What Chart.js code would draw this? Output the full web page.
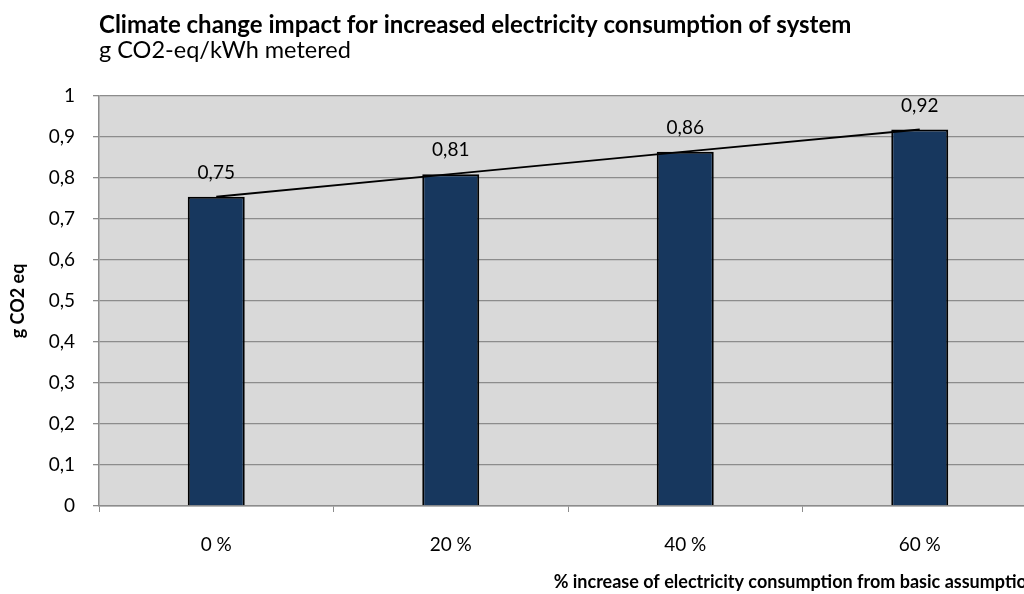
<!DOCTYPE html>
<html>
<head>
<meta charset="utf-8">
<script src="https://cdn.jsdelivr.net/npm/chart.js@4"></script>
<style>
  html, body { margin: 0; padding: 0; background: #fff; overflow: hidden; }
  #wrap { width: 1040px; height: 594px; }
</style>
</head>
<body>
<div id="wrap"><canvas id="impactChart" width="1040" height="594"></canvas></div>
<script>
// Categories and values (g CO2 eq per kWh metered)
const increaseLabels = ['0 %', '20 %', '40 %', '60 %'];
const impactValues = [0.754, 0.809, 0.864, 0.918];

const FONT = 'Lato, "Open Sans", sans-serif';
const gridGray = '#8c8c8c';

// comma as decimal separator
const comma = (v, d) => v.toFixed(d).replace('.', ',');

// gray plot background
const plotBackground = {
  id: 'plotBackground',
  beforeDraw(chart) {
    const { ctx, chartArea: a } = chart;
    ctx.save();
    ctx.fillStyle = '#d9d9d9';
    ctx.fillRect(a.left, a.top, a.right - a.left, a.bottom - a.top);
    ctx.restore();
  }
};

// value labels above each bar
const barValueLabels = {
  id: 'barValueLabels',
  afterDatasetsDraw(chart) {
    const ctx = chart.ctx;
    const meta = chart.getDatasetMeta(1);
    ctx.save();
    ctx.font = '19px ' + FONT;
    ctx.fillStyle = '#000';
    ctx.textAlign = 'center';
    ctx.textBaseline = 'middle';
    meta.data.forEach((bar, i) => {
      ctx.fillText(comma(impactValues[i], 2), bar.x, bar.y - 24);
    });
    ctx.restore();
  }
};

new Chart(document.getElementById('impactChart').getContext('2d'), {
  data: {
    labels: increaseLabels,
    datasets: [
      {
        type: 'line',
        data: impactValues,
        borderColor: '#000',
        borderWidth: 1.8,
        pointRadius: 0,
        tension: 0,
        order: 0
      },
      {
        type: 'bar',
        data: impactValues,
        backgroundColor: '#17375e',
        borderColor: '#000',
        borderWidth: 2,
        categoryPercentage: 1,
        barPercentage: 0.243,
        order: 1
      }
    ]
  },
  options: {
    responsive: false,
    animation: false,
    devicePixelRatio: 1,
    layout: { padding: { top: 0, right: 3, bottom: 0, left: 0 } },
    plugins: {
      legend: { display: false },
      tooltip: { enabled: false },
      title: {
        display: true,
        text: 'Climate change impact for increased electricity consumption of system',
        align: 'start',
        fullSize: false,
        color: '#000',
        font: { family: FONT, size: 24, weight: 'bold', lineHeight: 1.05 },
        padding: { top: 13, bottom: 0 }
      },
      subtitle: {
        display: true,
        text: 'g CO2-eq/kWh metered',
        align: 'start',
        fullSize: false,
        color: '#000',
        font: { family: FONT, size: 23.5, lineHeight: 1.05 },
        padding: { top: 0, bottom: 33 }
      }
    },
    scales: {
      x: {
        offset: true,
        grid: { display: true, offset: true, drawOnChartArea: false, color: gridGray, tickLength: 6 },
        border: { color: gridGray, width: 1.5 },
        ticks: { color: '#000', font: { family: FONT, size: 19 }, padding: 21, maxRotation: 0 },
        title: {
          display: true,
          text: '% increase of electricity consumption from basic assumption',
          align: 'end',
          color: '#000',
          font: { family: FONT, size: 18, weight: 'bold' },
          padding: { top: 0, bottom: 1 }
        },
        afterFit(scale) { scale.height = 88; }
      },
      y: {
        min: 0,
        max: 1,
        grid: { color: gridGray, lineWidth: 1.3, tickLength: 6 },
        border: { color: gridGray, width: 1.5 },
        ticks: {
          stepSize: 0.1,
          color: '#000',
          font: { family: FONT, size: 19 },
          padding: 18,
          callback: v => Number(v.toFixed(1)).toString().replace('.', ',')
        },
        title: {
          display: true,
          text: 'g CO2 eq',
          color: '#000',
          font: { family: FONT, size: 18, weight: 'bold' },
          padding: { top: 7, bottom: 0 }
        },
        afterFit(scale) { scale.width = 99; }
      }
    }
  },
  plugins: [plotBackground, barValueLabels]
});
</script>
</body>
</html>
